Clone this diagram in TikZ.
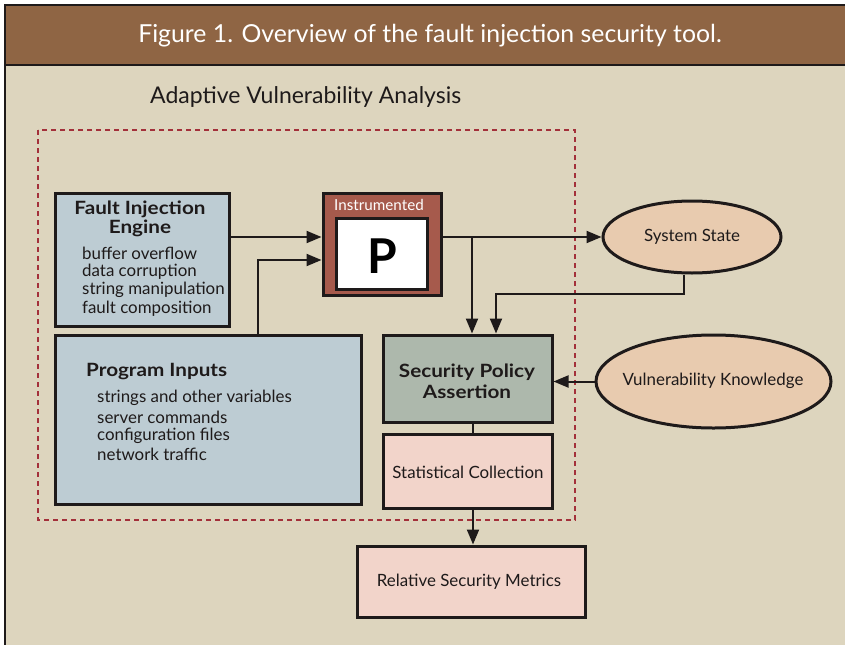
\documentclass[tikz,border=0pt]{standalone}
\usepackage{fontspec}
\setmainfont{Lato}
\newfontfamily\headfont[FakeStretch=1.13]{Lato}
\usetikzlibrary{shapes.geometric,arrows.meta}
\definecolor{bgbeige}{RGB}{221,213,190}
\definecolor{titlebrown}{RGB}{143,101,68}
\definecolor{instred}{RGB}{166,90,76}
\definecolor{ellfill}{RGB}{232,203,175}
\definecolor{bluebox}{RGB}{189,204,211}
\definecolor{greenbox}{RGB}{173,184,172}
\definecolor{pinkbox}{RGB}{242,212,202}
\definecolor{dashred}{RGB}{163,48,58}
\definecolor{ink}{RGB}{30,26,26}
\tikzset{
  boxstyle/.style={draw=ink, line width=3pt, rectangle, inner sep=0pt},
  ellstyle/.style={draw=ink, line width=3pt, ellipse, fill=ellfill, inner sep=0pt},
  arr/.style={draw=ink, line width=2pt, -{Triangle[length=15pt,width=12pt]}},
  plain/.style={draw=ink, line width=2pt},
  bodytext/.style={font=\fontsize{16.9}{19}\selectfont, text=ink, inner sep=0pt},
  headtext/.style={font=\headfont\fontsize{18.3}{20}\selectfont\bfseries, text=ink, inner sep=0pt},
}
\begin{document}
\begin{tikzpicture}[x=1pt,y=-1pt]
\useasboundingbox (0,0) rectangle (845,645);
\fill[white] (0,0) rectangle (845,645);
\fill[bgbeige] (5,5) rectangle (845,645);
\fill[titlebrown] (5,5) rectangle (845,65);
\draw[ink, line width=1.5pt] (845,5) -- (5,5) -- (5,645);
\draw[ink, line width=1.5pt] (5,65) -- (845,65);
\node[text=white, font=\fontsize{24.8}{28}\selectfont, inner sep=0pt] (title) at (430,36) {Figure 1. Overview of the fault injection security tool.};
\node[text=ink, font=\fontsize{23}{26}\selectfont, inner sep=0pt, anchor=west] (ava) at (150,97) {Adaptive Vulnerability Analysis};
% dashed region
\draw[dashred, line width=2pt, dash pattern=on 5pt off 4pt] (38,130) rectangle (575,520);
% boxes
\node[boxstyle, fill=bluebox, minimum width=174pt, minimum height=133pt] (fie) at (142,259.5) {};
\node[boxstyle, fill=bluebox, minimum width=306pt, minimum height=169pt] (pi) at (208,419.5) {};
\node[boxstyle, fill=instred, minimum width=118pt, minimum height=102pt] (inst) at (382,244) {};
\node[boxstyle, fill=white, minimum width=91pt, minimum height=71pt] (pbox) at (381.5,253.5) {};
\node[boxstyle, fill=greenbox, minimum width=169pt, minimum height=87pt] (spa) at (467.5,378.5) {};
\node[boxstyle, fill=pinkbox, minimum width=169pt, minimum height=74pt] (sc) at (467.5,471) {};
\node[boxstyle, fill=pinkbox, minimum width=228pt, minimum height=71pt] (rsm) at (471,581.5) {};
\node[ellstyle, minimum width=178pt, minimum height=72pt] (ss) at (692,237) {};
\node[ellstyle, minimum width=235pt, minimum height=93pt] (vk) at (713.5,381.5) {};
% texts
\node[headtext] (fiet1) at (140,209) {Fault Injection};
\node[headtext] (fiet2) at (140,228) {Engine};
\node[bodytext, anchor=west] (f1) at (82,253) {buffer overflow};
\node[bodytext, anchor=west] (f2) at (82,272) {data corruption};
\node[bodytext, anchor=west] (f3) at (82,290) {string manipulation};
\node[bodytext, anchor=west] (f4) at (82,309) {fault composition};
\node[text=white, font=\fontsize{15.2}{17}\selectfont, inner sep=0pt] (instt) at (379,205) {Instrumented};
\node[text=black, font=\fontsize{48}{50}\selectfont\bfseries, inner sep=0pt] (pt) at (382,256) {P};
\node[headtext, anchor=west] (pit) at (86,372) {Program Inputs};
\node[bodytext, anchor=west] (p1) at (97,398) {strings and other variables};
\node[bodytext, anchor=west] (p2) at (97,417) {server commands};
\node[bodytext, anchor=west] (p3) at (97,436) {configuration files};
\node[bodytext, anchor=west] (p4) at (97,454) {network traffic};
\node[headtext] (spat1) at (467,372) {Security Policy};
\node[headtext] (spat2) at (467,392) {Assertion};
\node[bodytext] (sct) at (468,472) {Statistical Collection};
\node[bodytext] (rsmt) at (469,582) {Relative Security Metrics};
\node[bodytext] (sst) at (692,237) {System State};
\node[bodytext] (vkt) at (713,381) {Vulnerability Knowledge};
% connectors
\coordinate (br) at (472,237);
\coordinate (ssturn) at (496,294);
\draw[arr] (fie.east |- br) -- (inst.west |- br);
\draw[arr] (pi.north -| 258,0) |- (inst.west |- 0,260);
\draw[arr] (inst.east |- ss.west) -- (ss.west);
\draw[arr] (br) -- (spa.north -| br);
\draw[arr] (ss.south -| 684,0) |- (ssturn) -- (spa.north -| ssturn);
\draw[arr] (vk.west) -- (spa.east |- vk.west);
\draw[plain] (spa.south -| 473,0) -- (sc.north -| 473,0);
\draw[arr] (sc.south -| 473,0) -- (rsm.north -| 473,0);
\end{tikzpicture}
\end{document}
